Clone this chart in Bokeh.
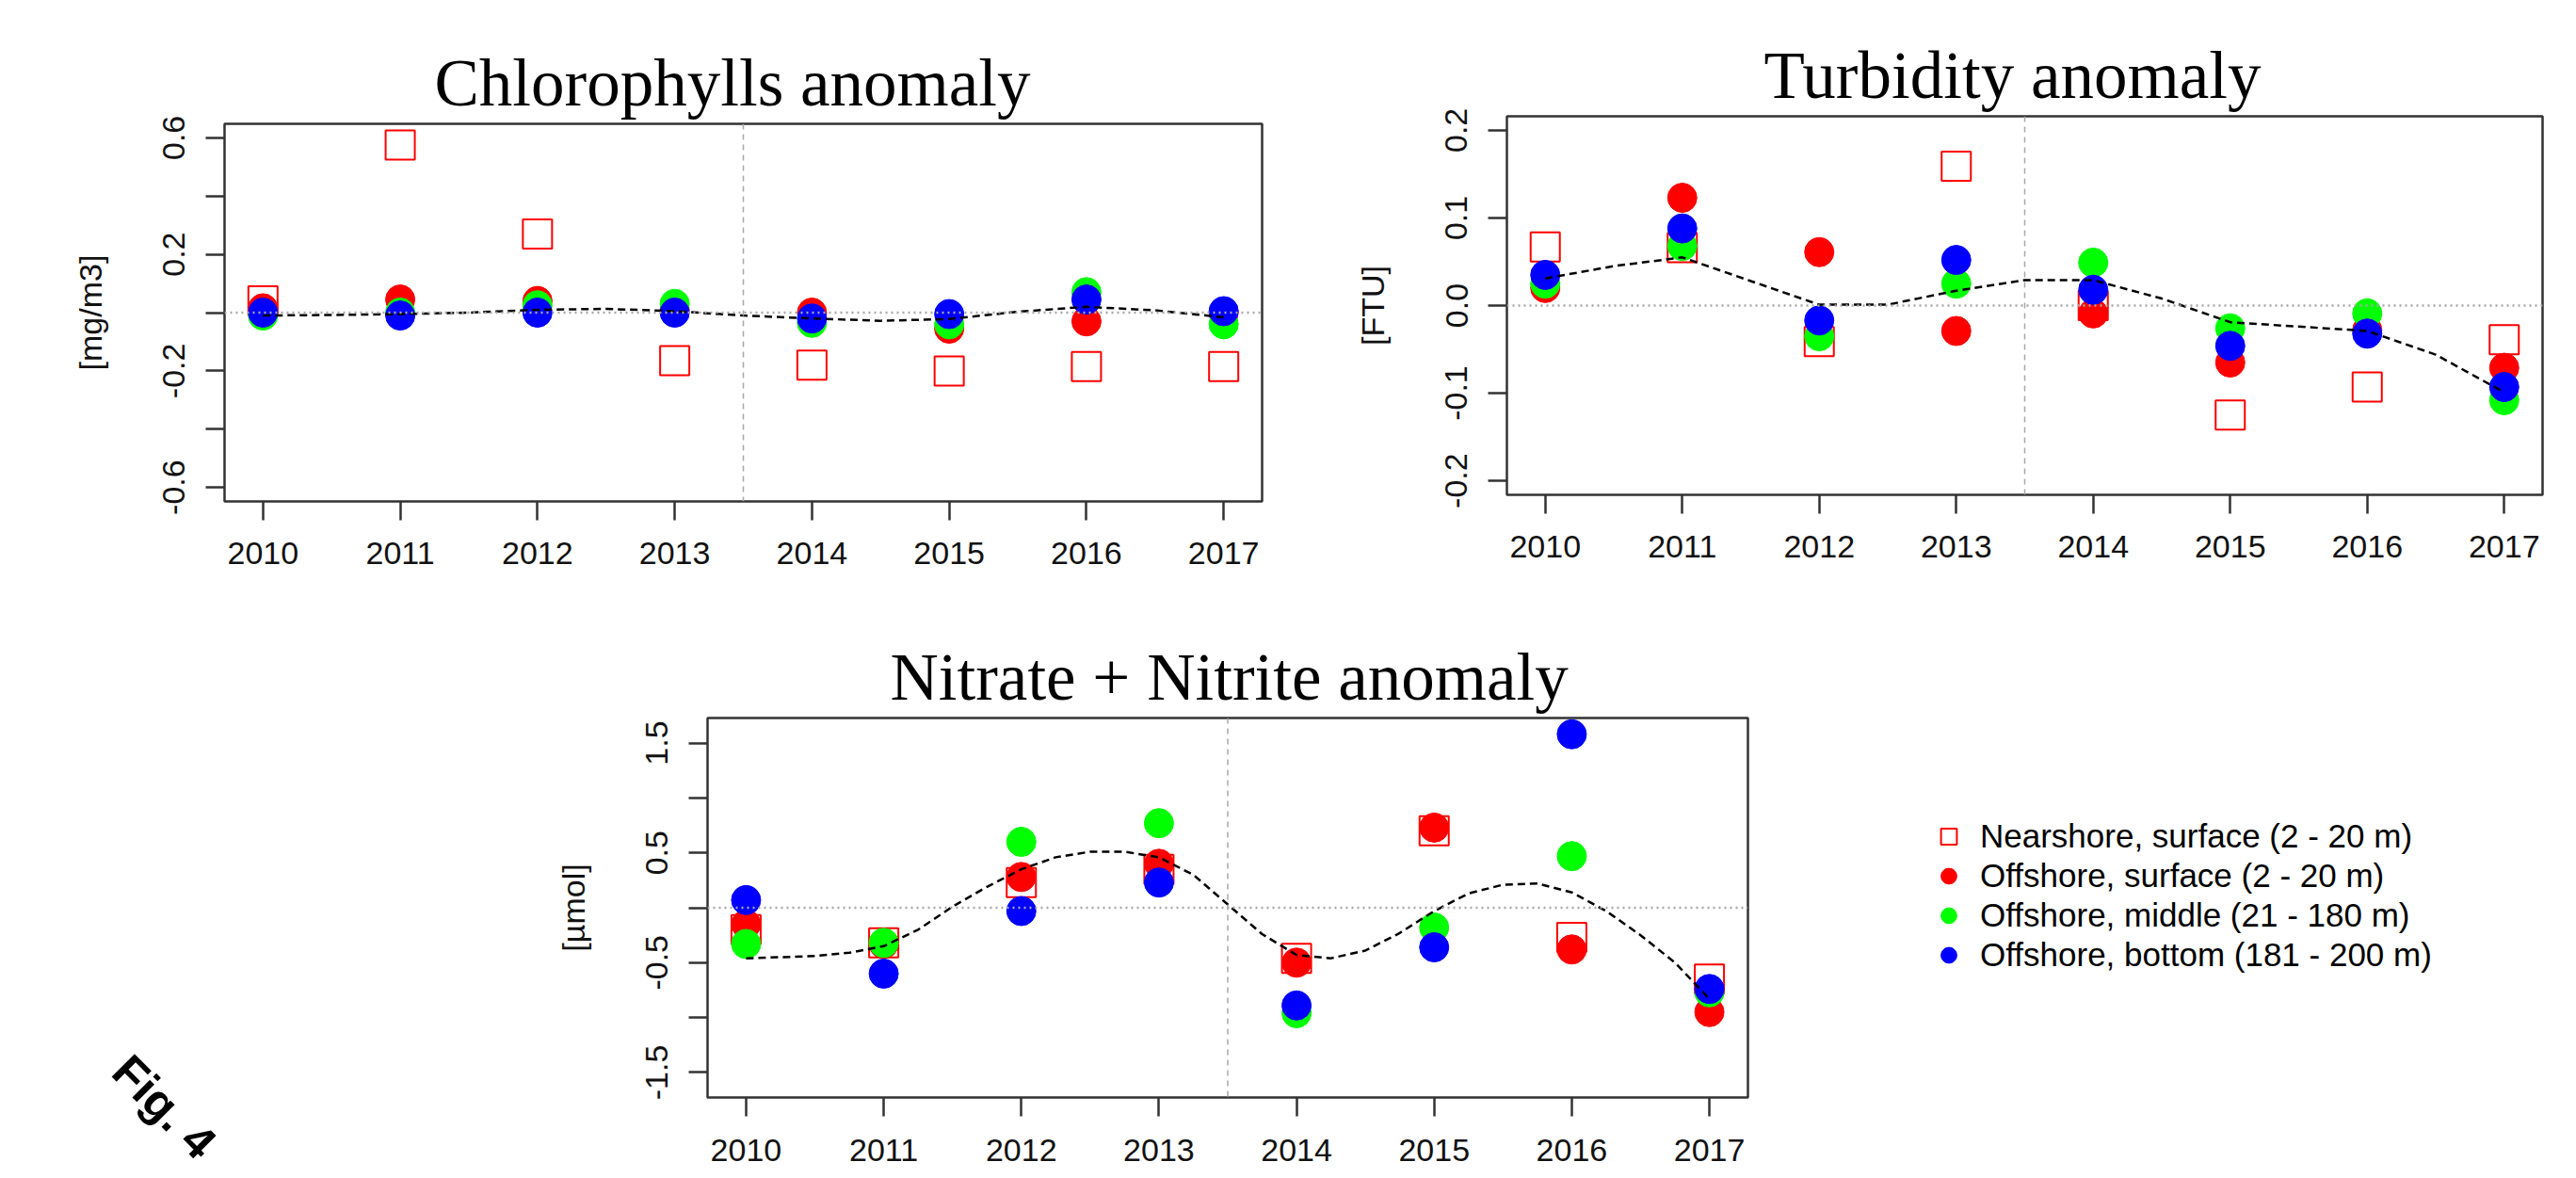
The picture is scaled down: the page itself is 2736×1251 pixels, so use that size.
import math
from bokeh.plotting import figure
from bokeh.models import Range1d, FixedTicker, Span, Legend, LegendItem, Label, Spacer
from bokeh.layouts import row, column
from bokeh.embed import file_html
from bokeh.resources import INLINE

years = [2010, 2011, 2012, 2013, 2014, 2015, 2016, 2017]
series_labels = ["Nearshore, surface (2 - 20 m)", "Offshore, surface (2 - 20 m)",
                 "Offshore, middle (21 - 180 m)", "Offshore, bottom (181 - 200 m)"]

# Chlorophylls anomaly [mg/m3]
chl_near_surf = [0.04, 0.575, 0.27, -0.165, -0.18, -0.2, -0.185, -0.185]
chl_off_surf = [0.015, 0.045, 0.04, 0.01, 0.0, -0.055, -0.03, 0.0]
chl_off_mid = [-0.01, 0.0, 0.025, 0.03, -0.035, -0.04, 0.07, -0.04]
chl_off_bot = [0.0, -0.01, 0.0, 0.0, -0.02, -0.005, 0.045, 0.005]
chl_trend_x = [2010, 2010.5, 2011, 2011.5, 2012, 2012.5, 2013, 2013.5, 2014, 2014.5, 2015, 2015.5, 2016, 2016.5, 2017]
chl_trend_y = [-0.01, -0.008, -0.005, 0.0, 0.01, 0.013, 0.005, -0.01, -0.02, -0.028, -0.022, 0.003, 0.02, 0.008, -0.016]
chl_ticks = [-0.6, -0.4, -0.2, 0.0, 0.2, 0.4, 0.6]
chl_tick_labels = ["-0.6", "", "-0.2", "", "0.2", "", "0.6"]

# Turbidity anomaly [FTU]
tur_near_surf = [0.067, 0.066, -0.041, 0.159, 0.0, -0.125, -0.093, -0.039]
tur_off_surf = [0.02, 0.123, 0.061, -0.029, -0.009, -0.065, -0.028, -0.071]
tur_off_mid = [0.025, 0.068, -0.035, 0.025, 0.049, -0.026, -0.009, -0.108]
tur_off_bot = [0.035, 0.088, -0.017, 0.052, 0.018, -0.046, -0.032, -0.093]
tur_trend_x = [2010, 2010.5, 2011, 2011.5, 2012, 2012.5, 2013, 2013.5, 2014, 2014.5, 2015, 2015.5, 2016, 2016.5, 2017]
tur_trend_y = [0.031, 0.045, 0.055, 0.028, 0.001, 0.001, 0.017, 0.029, 0.029, 0.008, -0.019, -0.024, -0.029, -0.056, -0.099]
tur_ticks = [-0.2, -0.1, 0.0, 0.1, 0.2]
tur_tick_labels = ["-0.2", "-0.1", "0.0", "0.1", "0.2"]

# Nitrate + Nitrite anomaly [umol]
nit_near_surf = [-0.2, -0.32, 0.23, 0.35, -0.46, 0.7, -0.27, -0.65]
nit_off_surf = [-0.15, -0.33, 0.28, 0.4, -0.5, 0.73, -0.38, -0.95]
nit_off_mid = [-0.33, -0.32, 0.6, 0.77, -0.96, -0.18, 0.47, -0.77]
nit_off_bot = [0.07, -0.6, -0.03, 0.23, -0.89, -0.36, 1.58, -0.74]
nit_trend_x = [2010, 2010.25, 2010.5, 2010.75, 2011, 2011.25, 2011.5, 2011.75, 2012, 2012.25,
               2012.5, 2012.75, 2013, 2013.25, 2013.5, 2013.75, 2014, 2014.25, 2014.5, 2014.75,
               2015, 2015.25, 2015.5, 2015.75, 2016, 2016.25, 2016.5, 2016.75, 2017]
nit_trend_y = [-0.46, -0.45, -0.44, -0.41, -0.35, -0.2, 0.01, 0.19, 0.35, 0.46,
               0.51, 0.51, 0.46, 0.3, 0.03, -0.24, -0.43, -0.46, -0.39, -0.23,
               -0.03, 0.13, 0.21, 0.22, 0.14, -0.03, -0.25, -0.5, -0.83]
nit_ticks = [-1.5, -1.0, -0.5, 0.0, 0.5, 1.0, 1.5]
nit_tick_labels = ["-1.5", "", "-0.5", "", "0.5", "", "1.5"]

SANS = "Liberation Sans"
SERIF = "Liberation Serif"
RED, GREEN, BLUE = "#ff0000", "#00ff00", "#0000ff"


def make_panel(title, ylabel, ylim, yticks, ylabels, near, osurf, omid, obot, tx, ty,
               fw, fh, left, right, top, bottom, title_offset, xstand):
    p = figure(frame_width=fw, frame_height=fh, min_border_left=left, min_border_right=right,
               min_border_top=top, min_border_bottom=bottom,
               x_range=Range1d(2009.72, 2017.28), y_range=Range1d(-ylim * 1.08, ylim * 1.08),
               toolbar_location=None, output_backend="svg", background_fill_color="white",
               border_fill_color="white")
    p.grid.visible = False
    p.outline_line_color = "#333333"
    p.outline_line_width = 2.5
    p.title.text = title
    p.title.align = "left"
    p.title.offset = title_offset
    p.title.standoff = 10
    p.title.text_font = SERIF
    p.title.text_font_size = "71px"
    p.title.text_font_style = "normal"
    p.title.text_color = "black"

    p.xaxis.ticker = FixedTicker(ticks=years)
    p.xaxis.major_label_overrides = {y: str(y) for y in years}
    p.yaxis.ticker = FixedTicker(ticks=yticks)
    p.yaxis.major_label_overrides = dict(zip(yticks, ylabels))
    for ax in p.axis:
        ax.axis_line_color = None
        ax.major_tick_in = 0
        ax.major_tick_out = 20
        ax.major_tick_line_color = "#333333"
        ax.major_tick_line_width = 2.5
        ax.minor_tick_line_color = None
        ax.major_label_text_font = SANS
        ax.major_label_text_font_size = "34px"
        ax.major_label_text_color = "#111111"
        ax.axis_label_text_font = SANS
        ax.axis_label_text_font_size = "34px"
        ax.axis_label_text_font_style = "normal"
        ax.axis_label_text_color = "#111111"
    p.xaxis.major_label_standoff = xstand
    p.yaxis.major_label_orientation = "vertical"
    p.yaxis.major_label_standoff = 22
    p.yaxis.axis_label = ylabel
    p.yaxis.axis_label_standoff = 56

    p.add_layout(Span(location=0, dimension="width", line_color="#a8a8a8",
                      line_dash="2 4", line_width=2.5))
    p.add_layout(Span(location=2013.5, dimension="height", line_color="#a8a8a8",
                      line_dash="6 5", line_width=1.5))

    p.scatter(years, near, marker="square", size=31, fill_color=None,
              line_color=RED, line_width=2)
    p.scatter(years, osurf, marker="circle", size=31, fill_color=RED, line_color=RED)
    p.scatter(years, omid, marker="circle", size=31, fill_color=GREEN, line_color=GREEN)
    p.scatter(years, obot, marker="circle", size=31, fill_color=BLUE, line_color=BLUE)
    p.line(tx, ty, line_color="black", line_dash="8 5", line_width=2.5)
    return p


p_chl = make_panel("Chlorophylls anomaly", "[mg/m3]", 0.6, chl_ticks, chl_tick_labels,
                   chl_near_surf, chl_off_surf, chl_off_mid, chl_off_bot, chl_trend_x, chl_trend_y,
                   1102, 401, 238, 60, 123, 108, 223, 23)
p_tur = make_panel("Turbidity anomaly", "[FTU]", 0.2, tur_ticks, tur_tick_labels,
                   tur_near_surf, tur_off_surf, tur_off_mid, tur_off_bot, tur_trend_x, tur_trend_y,
                   1100, 402, 200, 20, 123, 108, 273, 23)
p_nit = make_panel("Nitrate + Nitrite anomaly", "[\u00b5mol]", 1.6, nit_ticks, nit_tick_labels,
                   nit_near_surf, nit_off_surf, nit_off_mid, nit_off_bot, nit_trend_x, nit_trend_y,
                   1105, 403, 201, 20, 122, 78, 194, 24)

# "Fig. 4" corner label in its own small canvas
p_fig = figure(width=550, height=185, x_range=Range1d(0, 550), y_range=Range1d(0, 185),
               min_border=0, toolbar_location=None, output_backend="svg", title=None,
               x_axis_location=None, y_axis_location=None, outline_line_color=None)
p_fig.grid.visible = False
p_fig.add_layout(Label(x=174, y=70, text="Fig. 4", angle=-math.pi / 4, text_align="center",
                       text_baseline="middle", text_font=SANS, text_font_style="bold",
                       text_font_size="50px", text_color="black"))

# Legend panel
p_leg = figure(width=850, height=603, x_range=Range1d(0, 1), y_range=Range1d(0, 1),
               min_border=0, toolbar_location=None, output_backend="svg",
               x_axis_location=None, y_axis_location=None, outline_line_color=None)
p_leg.grid.visible = False
lr = [
    p_leg.scatter(years, nit_near_surf, marker="square", size=31, fill_color=None,
                  line_color=RED, line_width=2, visible=False),
    p_leg.scatter(years, nit_off_surf, marker="circle", size=31, fill_color=RED,
                  line_color=RED, visible=False),
    p_leg.scatter(years, nit_off_mid, marker="circle", size=31, fill_color=GREEN,
                  line_color=GREEN, visible=False),
    p_leg.scatter(years, nit_off_bot, marker="circle", size=31, fill_color=BLUE,
                  line_color=BLUE, visible=False),
]
legend = Legend(items=[LegendItem(label=t, renderers=[r]) for t, r in zip(series_labels, lr)],
                location=(171, 130), glyph_width=45, glyph_height=42, label_height=42,
                label_standoff=11, spacing=0, padding=0, margin=0, border_line_color=None,
                background_fill_alpha=0, label_text_font=SANS, label_text_font_size="35px",
                label_text_color="black", click_policy="none")
p_leg.add_layout(legend)

layout = column(row(column(Spacer(height=8), p_chl), p_tur),
                row(column(Spacer(height=420), p_fig), p_nit, p_leg))
open("out.html", "w").write(file_html(layout, INLINE))
